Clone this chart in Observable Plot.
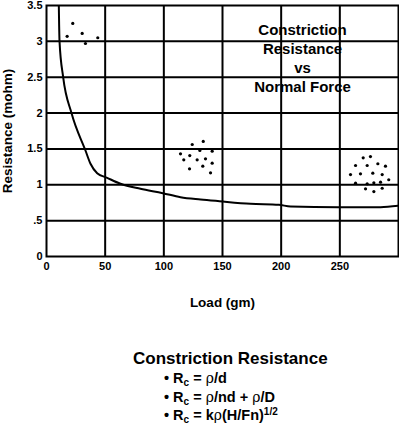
<!DOCTYPE html>
<html>
<head>
<meta charset="utf-8">
<script src="https://cdn.jsdelivr.net/npm/d3@7"></script>
<script src="https://cdn.jsdelivr.net/npm/@observablehq/plot@0.6"></script>
<style>
  html, body { margin: 0; padding: 0; background: #fff; }
  body { width: 399px; height: 444px; position: relative; font-family: "Liberation Sans", Arial, sans-serif; font-weight: bold; color: #000; }
  #chart svg { display: block; }
  g[aria-label="x-axis label"] text, g[aria-label="y-axis label"] text { font-size: 13.5px; }
  #legend { position: absolute; left: 133px; top: 349px; }
  #legend .title { font-size: 17px; line-height: 20px; white-space: nowrap; }
  #legend .item { font-size: 14.5px; line-height: 18.5px; margin-left: 31px; white-space: nowrap; }
  #legend .rho { font-family: "DejaVu Serif", serif; font-weight: normal; font-size: 14px; }
  #legend sub { font-size: 10px; vertical-align: -3px; line-height: 0; }
  #legend sup { font-size: 10px; vertical-align: 5px; line-height: 0; }
</style>
</head>
<body>
<div id="chart"></div>
<div id="legend"></div>
<script>
// Fitted curve (Load in gm, Resistance in mohm)
const curveLoad = [10.5, 11.1, 14.2, 21.3, 33.2, 37.5, 43.2, 51.7, 63.1, 80.1, 99.1, 114.2, 131.3, 147.4, 173.9, 198, 208, 248.6, 284.7, 300];
const curveRes  = [3.5, 3.0, 2.5, 2.0, 1.478, 1.293, 1.162, 1.097, 1.014, 0.944, 0.883, 0.827, 0.795, 0.771, 0.735, 0.721, 0.697, 0.688, 0.688, 0.707];

// Measured points, three clusters
const pointLoad = [
  17.6, 22.4, 30.4, 33.2, 43.7,
  124.2, 133.6, 114.2, 122.1, 130.7, 141.2, 117.0, 128.4, 135.5, 141.2, 133.2, 121.9, 139.8,
  269.9, 276.1, 263.4, 273.3, 282.4, 288.9, 259.1, 267.6, 278.1, 286.1, 291.7, 263.4, 273.3, 279.0, 284.7, 271.9, 279.0, 286.1
];
const pointRes = [
  3.07, 3.25, 3.11, 2.97, 3.05,
  1.562, 1.604, 1.432, 1.408, 1.478, 1.468, 1.348, 1.348, 1.362, 1.301, 1.259, 1.223, 1.167,
  1.376, 1.394, 1.269, 1.269, 1.293, 1.259, 1.143, 1.153, 1.162, 1.143, 1.070, 1.022, 1.014, 1.028, 1.036, 0.944, 0.906, 0.952
];

const xTicks = [0, 50, 100, 150, 200, 250];
const yTicks = [0, 0.5, 1, 1.5, 2, 2.5, 3, 3.5];
const yTickLabels = ["0", ".5", "1", "1.5", "2", "2.5", "3", "3.5"];
const xGrid = [50, 100, 150, 200, 250];
const yGrid = [0.5, 1, 1.5, 2, 2.5, 3];

const xLabel = "Load (gm)";
const yLabel = "Resistance (mohm)";
const titleLines = ["Constriction", "Resistance", "vs", "Normal Force"];
const titleAt = {load: 218.2, res: 2.78};

const legendTitle = "Constriction Resistance";
const legendItems = [
  'R<sub>c</sub> = <span class="rho">ρ</span>/d',
  'R<sub>c</sub> = <span class="rho">ρ</span>/nd + <span class="rho">ρ</span>/D',
  'R<sub>c</sub> = k<span class="rho">ρ</span>(H/Fn)<sup>1/2</sup>'
];

const curve = curveLoad.map((l, i) => ({load: l, res: curveRes[i]}));
const points = pointLoad.map((l, i) => ({load: l, res: pointRes[i]}));

const chart = Plot.plot({
  width: 399,
  height: 320,
  marginLeft: 46,
  marginRight: 1,
  marginTop: 5,
  marginBottom: 64,
  style: {fontFamily: '"Liberation Sans", Arial, sans-serif', fontWeight: "bold", fontSize: "11px", color: "#000", background: "#fff", overflow: "visible"},
  x: {domain: [0, 300]},
  y: {domain: [0, 3.5]},
  marks: [
    Plot.gridX(xGrid, {stroke: "#000", strokeOpacity: 1, strokeWidth: 2}),
    Plot.gridY(yGrid, {stroke: "#000", strokeOpacity: 1, strokeWidth: 2}),
    Plot.frame({stroke: "#000", strokeWidth: 2}),
    Plot.axisX({ticks: xTicks, tickSize: 0, tickPadding: 6, label: xLabel, labelAnchor: "center", labelArrow: "none", labelOffset: 50}),
    Plot.axisY({ticks: yTicks, tickSize: 0, tickPadding: 4, tickFormat: d => yTickLabels[yTicks.indexOf(d)], label: yLabel, labelAnchor: "center", labelArrow: "none", labelOffset: 44}),
    Plot.line(curve, {x: "load", y: "res", stroke: "#000", strokeWidth: 2, curve: "monotone-x", clip: true}),
    Plot.dot(points, {x: "load", y: "res", r: 1.6, fill: "#000", stroke: "none"}),
    Plot.text([titleLines.join("\n")], {x: () => titleAt.load, y: () => titleAt.res, text: d => d, fontSize: 15, fontWeight: "bold", lineHeight: 1.27, fill: "#000", textAnchor: "middle"})
  ]
});
document.getElementById("chart").appendChild(chart);

const legend = document.getElementById("legend");
legend.innerHTML = `<div class="title">${legendTitle}</div>` +
  legendItems.map(t => `<div class="item">• ${t}</div>`).join("");
</script>
</body>
</html>
